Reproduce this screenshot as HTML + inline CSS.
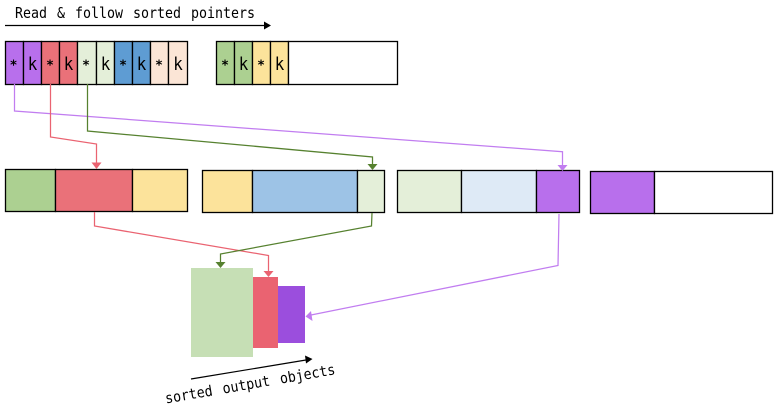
<!DOCTYPE html>
<html><head><meta charset="utf-8"><style>
html,body{margin:0;padding:0;background:#fff}
svg{display:block}
text{font-family:"DejaVu Sans Mono","Liberation Mono",monospace;fill:#000}
.k{font-size:18px}
.s{font-size:13px;font-weight:bold}
</style></head><body>
<svg width="782" height="412" viewBox="0 0 782 412" xmlns="http://www.w3.org/2000/svg">
<text transform="translate(15 18) scale(1 1.1)" font-size="13.3" word-spacing="2">Read &amp; follow sorted pointers</text>
<path d="M5 25.5H265" stroke="#000" stroke-width="1.2" fill="none"/><path d="M264 21.5L271 25.5L264 29.5z"/>
<g stroke="#000" stroke-width="1.3">
<rect x="5.5" y="41.5" width="18" height="43" fill="#b86fec"/>
<rect x="23.5" y="41.5" width="18" height="43" fill="#b86fec"/>
<rect x="41.5" y="41.5" width="18" height="43" fill="#ea7179"/>
<rect x="59.5" y="41.5" width="18" height="43" fill="#ea7179"/>
<rect x="77.5" y="41.5" width="19" height="43" fill="#e4efd9"/>
<rect x="96.5" y="41.5" width="18" height="43" fill="#e4efd9"/>
<rect x="114.5" y="41.5" width="18" height="43" fill="#5e9cd3"/>
<rect x="132.5" y="41.5" width="18" height="43" fill="#5e9cd3"/>
<rect x="150.5" y="41.5" width="18" height="43" fill="#fbe5d6"/>
<rect x="168.5" y="41.5" width="19" height="43" fill="#fbe5d6"/>
<rect x="216.5" y="41.5" width="18" height="43" fill="#acd091"/>
<rect x="234.5" y="41.5" width="18" height="43" fill="#acd091"/>
<rect x="252.5" y="41.5" width="18" height="43" fill="#fce39b"/>
<rect x="270.5" y="41.5" width="18" height="43" fill="#fce39b"/>
<rect x="288.5" y="41.5" width="109" height="43" fill="#fff"/>
<rect x="5.5" y="169.5" width="50" height="42" fill="#acd091"/>
<rect x="55.5" y="169.5" width="77" height="42" fill="#ea7179"/>
<rect x="132.5" y="169.5" width="55" height="42" fill="#fce39b"/>
<rect x="202.5" y="170.5" width="50" height="42" fill="#fce39b"/>
<rect x="252.5" y="170.5" width="105" height="42" fill="#9dc3e6"/>
<rect x="357.5" y="170.5" width="27" height="42" fill="#e4efd9"/>
<rect x="397.5" y="170.5" width="64" height="42" fill="#e4efd9"/>
<rect x="461.5" y="170.5" width="75" height="42" fill="#deeaf6"/>
<rect x="536.5" y="170.5" width="43" height="42" fill="#b86fec"/>
<rect x="590.5" y="171.5" width="64" height="42" fill="#b86fec"/>
<rect x="654.5" y="171.5" width="118" height="42" fill="#fff"/>
</g>
<g text-anchor="middle">
<text class="s" x="13.5" y="69.5">*</text><text class="k" transform="translate(32.5 70) scale(.88 1)">k</text>
<text class="s" x="50" y="69.5">*</text><text class="k" transform="translate(68.5 70) scale(.88 1)">k</text>
<text class="s" x="86" y="69.5">*</text><text class="k" transform="translate(105.5 70) scale(.88 1)">k</text>
<text class="s" x="123" y="69.5">*</text><text class="k" transform="translate(141.5 70) scale(.88 1)">k</text>
<text class="s" x="159" y="69.5">*</text><text class="k" transform="translate(178 70) scale(.88 1)">k</text>
<text class="s" x="225" y="69.5">*</text><text class="k" transform="translate(243.5 70) scale(.88 1)">k</text>
<text class="s" x="261" y="69.5">*</text><text class="k" transform="translate(279.5 70) scale(.88 1)">k</text>
</g>
<rect x="191" y="268" width="62" height="89" fill="#c6dfb5"/>
<rect x="253" y="277" width="25" height="71" fill="#ea6371"/>
<rect x="278" y="286" width="27" height="57" fill="#9b4edd"/>
<g fill="none" stroke-width="1.25">
<path d="M14.5 84V111L562.5 151.7V166" stroke="#c17df0"/>
<path d="M50.5 84V137L96.5 144V163" stroke="#ea6371"/>
<path d="M87.5 84V131L372.5 157V165" stroke="#56812f"/>
<path d="M94.5 212V226L268.5 255.5V271" stroke="#ea6371"/>
<path d="M372 213L371.5 226L220.5 254V262" stroke="#56812f"/>
<path d="M559 214L558 265.5L311 315" stroke="#c17df0"/>
<path d="M191 379L306 360" stroke="#000" stroke-width="1.2"/>
</g>
<path d="M557.5 165H567.5L562.5 171z" fill="#c17df0"/>
<path d="M91.5 162.5H101.5L96.5 169z" fill="#ea6371"/>
<path d="M367.5 164H377.5L372.5 170z" fill="#56812f"/>
<path d="M263.5 271H273.5L268.5 277z" fill="#ea6371"/>
<path d="M215.5 262H225.5L220.5 268z" fill="#56812f"/>
<path d="M305.5 316.5L311 311L312.5 321z" fill="#c17df0"/>
<path d="M312.5 359L305 355.5L306 363.5z" fill="#000"/>
<text transform="translate(166 403.5) rotate(-9.8) scale(1 1.1)" font-size="13.3" word-spacing="2.2">sorted output objects</text>
</svg>
</body></html>
